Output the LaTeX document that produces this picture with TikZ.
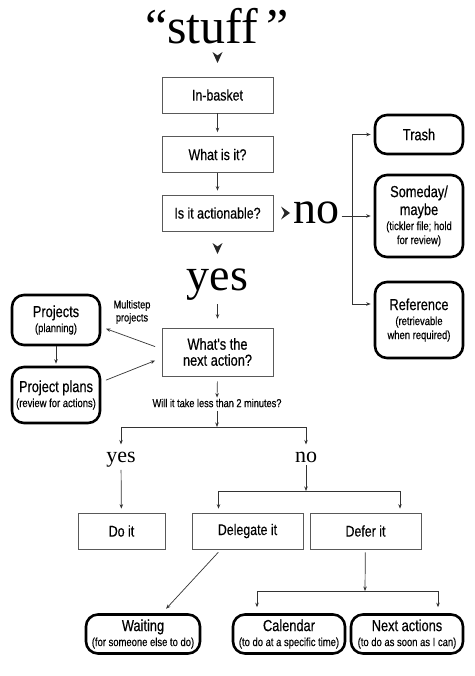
\documentclass[tikz,border=0pt]{standalone}
\usepackage{fontspec}
\newfontfamily\cond[FakeStretch=0.8,FakeBold=0.4]{Liberation Sans}
\newfontfamily\bigserif{Liberation Serif}
\usetikzlibrary{arrows.meta}
\newcommand\titlef{\fontsize{16}{17}\selectfont}
\begin{document}
\begin{tikzpicture}[x=1pt,y=-1pt,
  rbox/.style={draw=black!65,line width=0.7pt,minimum width=111pt,minimum height=36pt,inner sep=1pt,align=center,font=\cond\fontsize{15.5}{16}\selectfont},
  obox/.style={draw=black,line width=2.6pt,rounded corners=12pt,minimum width=88pt,inner sep=1pt,align=center,font=\cond\fontsize{11.8}{12}\selectfont},
  lbl/.style={inner sep=0pt,align=center,font=\cond\fontsize{11.5}{13}\selectfont},
  big/.style={inner sep=0pt,font=\bigserif\fontsize{46}{46}\selectfont},
  mid/.style={inner sep=0pt,font=\bigserif\fontsize{22}{22}\selectfont},
  arr/.style={draw=black!80,line width=0.7pt,-{Stealth[length=4.5pt,width=3.5pt]}},
  ln/.style={draw=black!80,line width=0.7pt},
  chev/.style={fill=black!85}
]
\useasboundingbox (0,0) rectangle (474,676);
\fill[white] (0,0) rectangle (474,676);

% main column
\node[big,anchor=base,font=\bigserif\fontsize{50}{50}\selectfont] (stuff) at (217,44) {“stuff\,”};
\node[rbox] (inbasket) at (217.5,95) {In-basket};
\node[rbox] (whatis) at (217.5,154.5) {What is it?};
\node[rbox] (action) at (217.5,213) {Is it actionable?};
\node[big,anchor=base] (yes) at (217.5,290) {yes};
\node[rbox,minimum height=48pt,font=\cond\fontsize{16}{16}\selectfont] (next) at (217.5,352) {What's the\\next action?};
\node[lbl] (will) at (217,403) {Will it take less than 2 minutes?};

% no branch
\node[big,anchor=base] (no) at (316.5,223) {no};
\node[obox,minimum height=39pt] (trash) at (419,134.5) {\titlef Trash};
\node[obox,minimum height=82pt] (someday) at (419,216) {\titlef Someday/\\[2pt]\titlef maybe\\[3pt](tickler file; hold\\[2pt]for review)};
\node[obox,minimum height=76pt] (reference) at (419,320) {\titlef Reference\\[3pt](retrievable\\[2pt]when required)};

% projects
\node[obox,minimum height=50pt] (projects) at (56,320) {\titlef Projects\\[3pt](planning)};
\node[obox,minimum height=56pt] (plans) at (56,395) {\titlef Project plans\\[3pt](review for actions)};
\node[lbl] (multi) at (132,312) {Multistep\\projects};

% two-minute branch
\node[mid,anchor=base] (yes2) at (121,462) {yes};
\node[mid,anchor=base] (no2) at (306,462) {no};
\node[rbox,minimum width=87pt] (doit) at (121.5,531) {Do it};
\node[rbox] (delegate) at (247.5,531) {Delegate it};
\node[rbox] (defer) at (365.5,531) {Defer it};

\node[obox,minimum width=114pt,minimum height=39pt] (waiting) at (143,634) {\titlef Waiting\\[3pt](for someone else to do)};
\node[obox,minimum width=112pt,minimum height=39pt] (calendar) at (289,634) {\titlef Calendar\\[3pt](to do at a specific time)};
\node[obox,minimum width=112pt,minimum height=39pt] (nextact) at (407,634) {\titlef Next actions\\[3pt](to do as soon as I can)};

% chevrons
\coordinate (c1) at (217.5,52);
\fill[chev] (c1) ++(-5,0) -- ++(5,3.5) -- ++(5,-3.5) -- ++(-5,11) -- cycle;
\coordinate (c2) at (217.5,243);
\fill[chev] (c2) ++(-5,0) -- ++(5,3.5) -- ++(5,-3.5) -- ++(-5,11) -- cycle;
\coordinate (c3) at (281,206.5);
\fill[chev] (c3) -- ++(3.5,6.5) -- ++(-3.5,6.5) -- ++(9,-6.5) -- cycle;

% connectors main column
\draw[arr,shorten >=4pt] (inbasket) -- (whatis);
\draw[arr,shorten >=4pt] (whatis) -- (action);
\draw[arr,shorten <=4pt,shorten >=9pt] (yes.south) -- (next.north);
\draw[arr,shorten <=5pt,shorten >=1pt] (next.south) -- (will.north);

% no branch connectors
\coordinate (v1) at (352,134.5);
\coordinate (v2) at (352,304);
\draw[ln] (v1) -- (v2);
\draw[arr,shorten <=2pt,shorten >=3pt] (no.east |- someday.west) -- (someday.west);
\draw[arr,shorten >=3pt] (v1) -- (trash.west);
\draw[arr,shorten >=3pt] (v2) -- (v2 -| reference.west);

% projects connectors
\draw[arr,shorten >=2pt] (projects) -- (plans);
\draw[arr,shorten <=7pt,shorten >=5pt] ([yshift=3pt]next.west) -- ([yshift=-7pt]projects.east);
\draw[arr,shorten <=5pt,shorten >=7pt] ([yshift=13pt]plans.east) -- ([yshift=-6pt]next.west);

% two-minute split
\coordinate (s1) at (217,427);
\draw[arr,shorten <=4pt] (will.south) -- (s1);
\draw[arr,shorten >=7pt] (s1) -| (yes2.north);
\draw[arr,shorten >=7pt] (s1) -| (no2.north);
\draw[arr,shorten <=3pt,shorten >=4pt] (yes2) -- (doit);

\coordinate (s2) at (306,491);
\draw[arr,shorten <=3pt] (no2) -- (s2);
\draw[arr,shorten >=4pt] (s2) -| ([xshift=-29pt]delegate.north);
\draw[arr,shorten >=4pt] (s2) -| ([xshift=34.5pt]defer.north);

\draw[arr,shorten <=4pt,shorten >=6pt] ([xshift=-26.5pt]delegate.south) -- ([xshift=19pt]waiting.north);

\coordinate (s3) at (365,591);
\draw[arr,shorten <=3pt] (defer) -- (s3);
\draw[arr,shorten >=6pt] (s3) -| ([xshift=-32pt]calendar.north);
\draw[arr,shorten >=6pt] (s3) -| ([xshift=31pt]nextact.north);
\end{tikzpicture}
\end{document}
